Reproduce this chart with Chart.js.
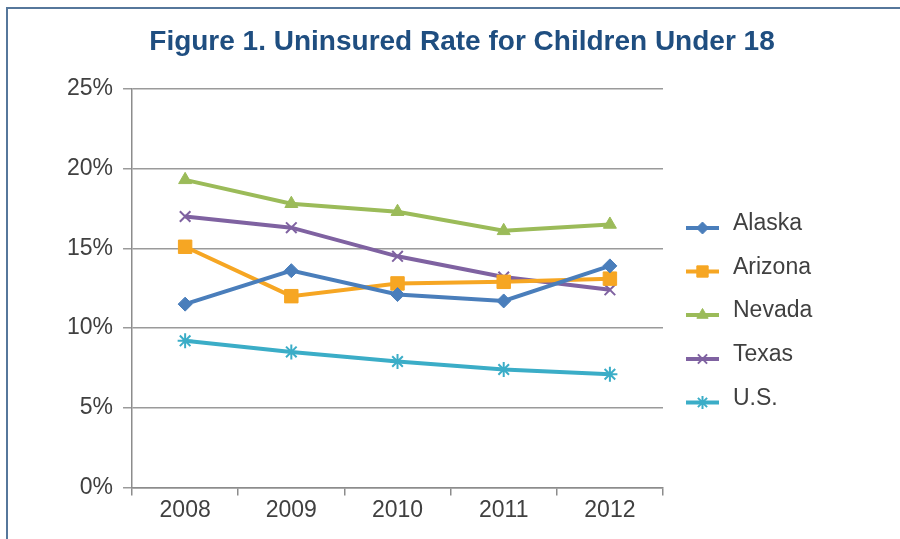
<!DOCTYPE html>
<html>
<head>
<meta charset="utf-8">
<script src="https://cdn.jsdelivr.net/npm/chart.js@4/dist/chart.umd.min.js"></script>
<style>
  html, body { margin: 0; padding: 0; background: #fff; }
  #wrap { position: relative; width: 900px; height: 539px; }
  #frame { position: absolute; left: 6px; top: 7px; right: 0; bottom: 0;
           border-top: 2px solid #56779b; border-left: 2px solid #56779b; pointer-events: none; }
</style>
</head>
<body>
<div id="wrap">
  <canvas id="chart" width="900" height="539"></canvas>
  <div id="frame"></div>
</div>
<script>
var years = ['2008', '2009', '2010', '2011', '2012'];
var alaska = [11.5, 13.6, 12.1, 11.7, 13.9];
var arizona = [15.1, 12.0, 12.8, 12.9, 13.1];
var nevada = [19.3, 17.8, 17.3, 16.1, 16.5];
var texas = [17.0, 16.3, 14.5, 13.2, 12.4];
var us = [9.2, 8.5, 7.9, 7.4, 7.1];
var yTicks = [0, 5, 10, 15, 20, 25];
var titleText = 'Figure 1. Uninsured Rate for Children Under 18';

var fontName = '"Liberation Sans", Arial, sans-serif';

function series(label, data, color, style, radius, bw) {
    return {
        label: label,
        data: data,
        borderColor: color,
        backgroundColor: color,
        borderWidth: 4,
        pointStyle: style,
        pointRadius: radius,
        pointHoverRadius: radius,
        pointBorderWidth: bw,
        pointBackgroundColor: color,
        pointBorderColor: color,
        tension: 0
    };
}

// title + legend drawn by hand so they sit where the original ones do
var sideLegend = {
    id: 'sideLegend',
    afterDraw: function(chart) {
        var ctx = chart.ctx;
        ctx.save();
        ctx.fillStyle = '#1f4e80';
        ctx.font = 'bold 28px ' + fontName;
        ctx.textAlign = 'center';
        ctx.textBaseline = 'middle';
        ctx.fillText(titleText, 462, 42);
        ctx.restore();

        var ys = [228, 271.5, 315, 359, 402.5];
        var sizes = [6, 8, 6.5, 6.5, 6.5];
        chart.data.datasets.forEach(function(ds, i) {
            var y = ys[i];
            ctx.save();
            ctx.strokeStyle = ds.borderColor;
            ctx.fillStyle = ds.borderColor;
            ctx.lineWidth = 4;
            ctx.beginPath();
            ctx.moveTo(686, y);
            ctx.lineTo(719, y);
            ctx.stroke();
            ctx.lineWidth = ds.pointBorderWidth;
            Chart.helpers.drawPoint(ctx, {
                pointStyle: ds.pointStyle, radius: sizes[i], rotation: 0, borderWidth: ds.pointBorderWidth
            }, 702.5, y);
            ctx.fillStyle = '#404040';
            ctx.font = '23px ' + fontName;
            ctx.textBaseline = 'middle';
            ctx.textAlign = 'left';
            ctx.fillText(ds.label, 733, y - 4);
            ctx.restore();
        });
    }
};

new Chart(document.getElementById('chart'), {
    type: 'line',
    data: {
        labels: years,
        datasets: [
            series('Alaska', alaska, '#4a7ebb', 'rectRot', 7, 1),
            series('Arizona', arizona, '#f6a623', 'rect', 9.5, 1),
            series('Nevada', nevada, '#9bbb59', 'triangle', 7.5, 1),
            series('Texas', texas, '#7f62a1', 'crossRot', 7.5, 2),
            series('U.S.', us, '#3badc7', 'star', 7.5, 2)
        ]
    },
    options: {
        responsive: false,
        animation: false,
        layout: { padding: { left: 57, right: 237, top: 89, bottom: 14 } },
        plugins: {
            legend: { display: false },
            tooltip: { enabled: false },
            title: { display: false }
        },
        scales: {
            x: {
                offset: true,
                grid: { offset: true, drawOnChartArea: false, drawTicks: true, tickLength: 8, color: '#8c8c8c', lineWidth: 1.5 },
                border: { color: '#8c8c8c', width: 1.5 },
                ticks: { color: '#404040', font: { family: fontName, size: 23 }, padding: 1 }
            },
            y: {
                min: 0,
                max: 25,
                afterBuildTicks: function(axis) {
                    axis.ticks = yTicks.map(function(v) { return { value: v }; });
                },
                grid: { color: '#9a9a9a', lineWidth: 1.5, tickLength: 9 },
                border: { color: '#8c8c8c', width: 1.5 },
                ticks: {
                    color: '#404040',
                    font: { family: fontName, size: 23 },
                    padding: 10,
                    callback: function(v) { return v + '%'; }
                }
            }
        }
    },
    plugins: [sideLegend]
});
</script>
</body>
</html>
